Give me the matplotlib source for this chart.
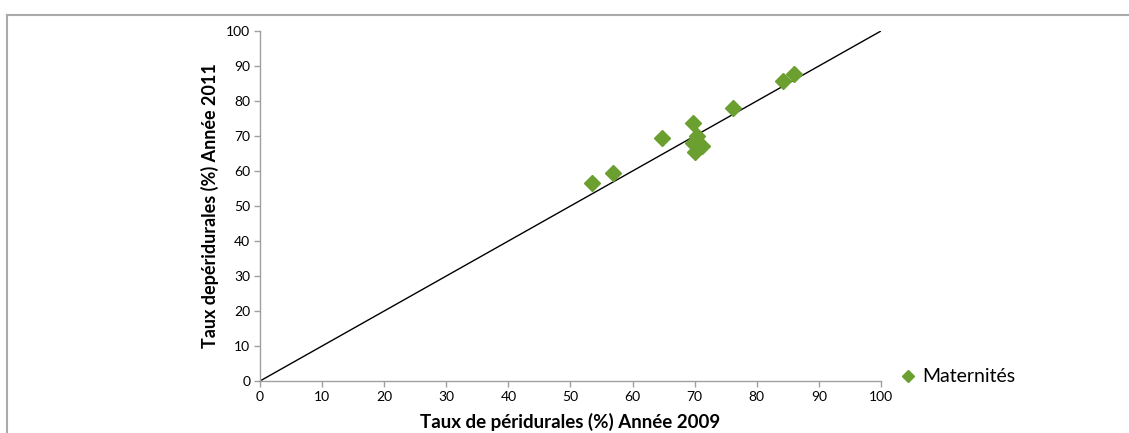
import matplotlib
matplotlib.use("Agg")
import matplotlib.pyplot as plt
from matplotlib.lines import Line2D

# taux de péridurales par maternité
taux_2009 = [53.5, 56.9, 64.8, 69.8, 70.3, 69.8, 71.1, 70.0, 76.2, 84.3, 86.0]
taux_2011 = [56.5, 59.3, 69.3, 73.8, 70.0, 67.9, 67.2, 65.4, 77.9, 85.7, 87.7]
diag = [0, 100]
ticks = list(range(0, 101, 10))

plt.rcParams["font.family"] = ["Lato", "DejaVu Sans"]

fig = plt.figure(figsize=(11.29, 4.33), dpi=100)
ax = fig.add_axes([0.2303, 0.1201, 0.55, 0.8083])

green = "#6b9f30"
ax.plot(diag, diag, color="black", linewidth=1.0, zorder=2)
ax.plot(taux_2009, taux_2011, linestyle="none", marker="D", markersize=8,
        color=green, markeredgecolor=green, label="Maternités", zorder=3)

ax.set_xlim(0, 100)
ax.set_ylim(0, 100)
ax.set_xticks(ticks)
ax.set_yticks(ticks)
ax.tick_params(axis="both", direction="out", length=4, width=1, color="#a0a0a0",
               labelsize=10, pad=3)
for side in ["top", "right"]:
    ax.spines[side].set_visible(False)
for side in ["left", "bottom"]:
    ax.spines[side].set_color("#a0a0a0")
    ax.spines[side].set_linewidth(1)

ax.set_xlabel("Taux de péridurales (%) Année 2009", fontsize=13.5, fontweight="bold", labelpad=7)
ax.set_ylabel("Taux depéridurales (%) Année 2011", fontsize=13, fontweight="bold", labelpad=5)

fig.legend(loc="center left", bbox_to_anchor=(902 / 1129, 1 - 377 / 433),
           frameon=False, fontsize=14, handlelength=0.6, handletextpad=0.45,
           markerscale=0.75, borderaxespad=0, borderpad=0)

# cadre gris autour du graphique
fig.add_artist(Line2D([7 / 1129, 1.0], [1 - 15 / 433, 1 - 15 / 433],
                      transform=fig.transFigure, color="#aaaaaa", linewidth=1.5))
fig.add_artist(Line2D([7 / 1129, 7 / 1129], [0.0, 1 - 15 / 433],
                      transform=fig.transFigure, color="#aaaaaa", linewidth=1.5))

fig.savefig("out.png", dpi=100)
